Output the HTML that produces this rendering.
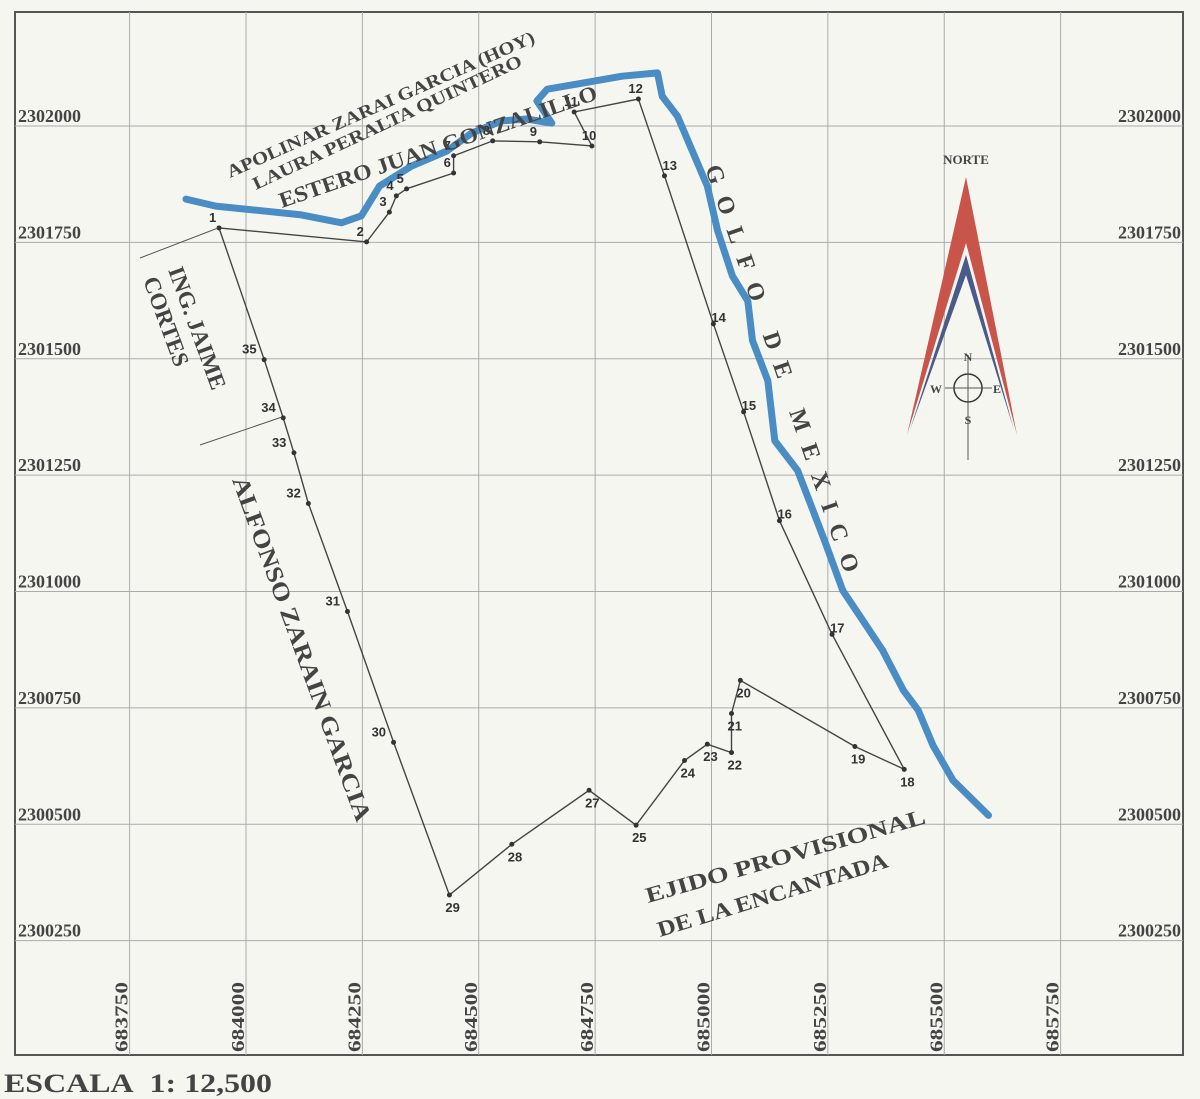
<!DOCTYPE html>
<html><head><meta charset="utf-8"><style>
html,body{margin:0;padding:0;background:#f6f6f1;}
svg{display:block;font-family:"Liberation Serif",serif;}
.lbl{font-family:"Liberation Sans",sans-serif;font-size:13px;fill:#333;font-weight:bold}
.ax{font-size:18px;font-weight:bold;fill:#444}
.big{font-weight:bold;fill:#444}
</style></head><body>
<svg id="map" width="1200" height="1099" viewBox="0 0 1200 1099" xmlns="http://www.w3.org/2000/svg">
<rect x="0" y="0" width="1200" height="1099" fill="#f6f6f1"/>
<rect x="15" y="12" width="1168" height="1043" fill="none" stroke="#555" stroke-width="2"/>
<g id="grid"></g>
<g id="coast"></g>
<g id="poly"></g>
<g id="labels"></g>
<g>
<text class="big" font-size="18" textLength="335" lengthAdjust="spacingAndGlyphs" transform="translate(230,178) rotate(-24)">APOLINAR ZARAI GARCIA (HOY)</text>
<text class="big" font-size="18" textLength="295" lengthAdjust="spacingAndGlyphs" transform="translate(256,190) rotate(-25)">LAURA PERALTA QUINTERO</text>
<text class="big" font-size="22" textLength="335" lengthAdjust="spacingAndGlyphs" transform="translate(282,208) rotate(-19)">ESTERO JUAN GONZALILLO</text>
<text class="big" font-size="24" letter-spacing="14" transform="translate(705,168) rotate(71)">GOLFO DE MEXICO</text>
<text class="big" font-size="23" transform="translate(168,270) rotate(70)">ING. JAIME</text>
<text class="big" font-size="23" transform="translate(143,280) rotate(70)">CORTES</text>
<line x1="140" y1="258" x2="218" y2="228" stroke="#555" stroke-width="1"/>
<line x1="200" y1="445" x2="282" y2="417" stroke="#555" stroke-width="1"/>
<text class="big" font-size="24" textLength="365" lengthAdjust="spacingAndGlyphs" transform="translate(232,480) rotate(70)">ALFONSO ZARAIN GARCIA</text>
<text class="big" font-size="22" textLength="290" lengthAdjust="spacingAndGlyphs" transform="translate(648,903) rotate(-16)">EJIDO PROVISIONAL</text>
<text class="big" font-size="22" textLength="240" lengthAdjust="spacingAndGlyphs" transform="translate(660,937) rotate(-17)">DE LA ENCANTADA</text>
<text x="4" y="1092" font-size="26" class="big" textLength="268" lengthAdjust="spacingAndGlyphs">ESCALA&#160;&#160;1: 12,500</text>
</g>
<g>
<text x="966" y="164" text-anchor="middle" font-size="13" class="big">NORTE</text>
<polygon points="966,177 907,435 966,243 1017,435" fill="#c9554a"/>
<polygon points="966,255 910,430 966,275 1014,430" fill="#4a5a8a"/>
<circle cx="968" cy="388" r="14" fill="none" stroke="#333" stroke-width="1.5"/>
<line x1="968" y1="355" x2="968" y2="460" stroke="#555"/>
<line x1="945" y1="388" x2="992" y2="388" stroke="#555"/>
<text x="968" y="361" text-anchor="middle" font-size="12" class="big">N</text>
<text x="968" y="424" text-anchor="middle" font-size="12" class="big">S</text>
<text x="936" y="393" text-anchor="middle" font-size="12" class="big">W</text>
<text x="997" y="393" text-anchor="middle" font-size="12" class="big">E</text>
</g>
</svg>
<script>
const xTicks=[683750,684000,684250,684500,684750,685000,685250,685500,685750];
const yTicks=[2302000,2301750,2301500,2301250,2301000,2300750,2300500,2300250];
const ptIds=["1","2","3","4","5","6","7","8","9","10","11","12","13","14","15","16","17","18","19","20","21","22","23","24","25","27","28","29","30","31","32","33","34","35"];
const ptE=[683942,684259,684308,684323,684345,684446,684446,684530,684631,684743,684705,684843,684899,685004,685069,685146,685259,685414,685308,685062,685043,685043,684991,684942,684838,684737,684571,684437,684317,684218,684134,684103,684080,684039];
const ptN=[2301781,2301751,2301815,2301850,2301865,2301899,2301936,2301968,2301966,2301957,2302030,2302058,2301893,2301575,2301386,2301152,2300908,2300618,2300667,2300809,2300738,2300654,2300672,2300637,2300498,2300573,2300457,2300348,2300676,2300957,2301189,2301298,2301373,2301498];
const coastE=[683871,683935,684032,684119,684205,684248,684287,684356,684431,684485,684550,684603,684657,684625,684647,684722,684808,684884,684894,684927,684959,684991,685013,685045,685078,685088,685121,685136,685185,685218,685243,685282,685325,685368,685412,685444,685476,685519,685595];
const coastN=[2301843,2301828,2301818,2301809,2301792,2301807,2301871,2301914,2301946,2301985,2302011,2302015,2302006,2302054,2302079,2302092,2302107,2302114,2302064,2302021,2301946,2301871,2301775,2301678,2301624,2301539,2301453,2301324,2301260,2301174,2301109,2301002,2300938,2300873,2300788,2300745,2300669,2300594,2300519];
const NS="http://www.w3.org/2000/svg";
const X=e=>246+(e-684000)*0.4655;
const Y=n=>126+(2302000-n)*0.4655;
function mk(t,a,p){const el=document.createElementNS(NS,t);for(const k in a)el.setAttribute(k,a[k]);p.appendChild(el);return el;}
const grid=document.getElementById('grid');
xTicks.forEach(v=>{const x=X(v);
 let l=mk('line',{x1:x,y1:12,x2:x,y2:1055,stroke:'#aaa','stroke-width':1},grid);
 
 
 let t=mk('text',{class:'ax',transform:`translate(${x-2},1052) rotate(-90)`,textLength:70,lengthAdjust:'spacingAndGlyphs'},grid);
 t.textContent=v;
 
 
});
yTicks.forEach(v=>{const y=Y(v);
 let l=mk('line',{x1:15,y1:y,x2:1183,y2:y,stroke:'#aaa','stroke-width':1},grid);
 
 
 let t=mk('text',{class:'ax',x:18,y:y-4},grid);t.textContent=v;
 
 
 let t2=mk('text',{class:'ax',x:1181,y:y-4,'text-anchor':'end'},grid);t2.textContent=v;
 
 
});
const cp=coastE.map((e,i)=>X(e).toFixed(1)+','+Y(coastN[i]).toFixed(1)).join(' ');
let c=mk('polyline',{points:cp,fill:'none',stroke:'#4a8cc4','stroke-width':7,'stroke-linejoin':'round','stroke-linecap':'round'},document.getElementById('coast'));


const pp=ptE.map((e,i)=>X(e).toFixed(1)+','+Y(ptN[i]).toFixed(1)).join(' ');
let pg=mk('polygon',{points:pp,fill:'none',stroke:'#444','stroke-width':1.4},document.getElementById('poly'));


const lg=document.getElementById('labels');
ptE.forEach((e,i)=>{
 let d=mk('circle',{cx:X(e),cy:Y(ptN[i]),r:2.5,fill:'#333'},lg);
 
 
 let t=mk('text',{class:'lbl',x:X(e)+(i<28?-2:-22),y:Y(ptN[i])+(i>=13&&i<28?-2:-6)},lg);
 if(i>=17&&i<28){t.setAttribute('y',Y(ptN[i])+17);t.setAttribute('x',X(e)-4);}
 if(i<12){t.setAttribute('x',X(e)-10);}
 t.textContent=ptIds[i];
 
 
});
</script>
</body></html>
